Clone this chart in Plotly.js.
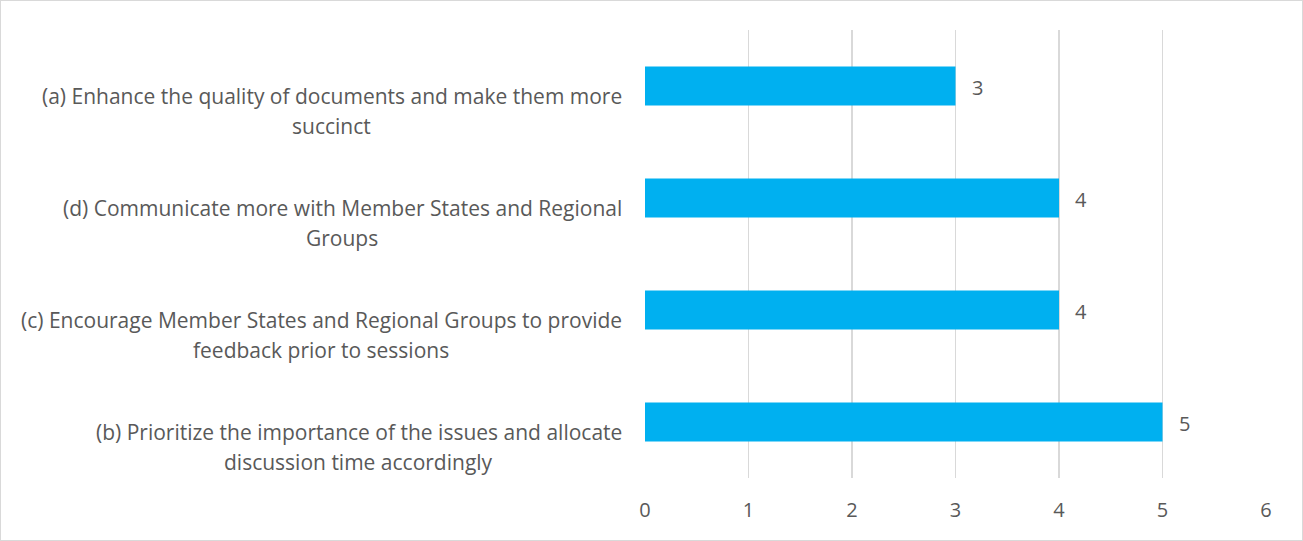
<!DOCTYPE html>
<html>
<head>
<meta charset="utf-8">
<script src="https://cdn.plot.ly/plotly-3.0.1.min.js"></script>
<style>
html,body{margin:0;padding:0;background:#fff;}
#wrap{position:relative;width:1303px;height:541px;}
#chart{width:1303px;height:541px;}
#frame{position:absolute;left:0;top:0;width:1303px;height:541px;box-sizing:border-box;border:1.5px solid #d9d9d9;pointer-events:none;}
</style>
</head>
<body>
<div id="wrap"><div id="chart"></div><div id="frame"></div></div>
<script>
var categories = [
  "(a) Enhance the quality of documents and make them more<br>succinct",
  "(d) Communicate more with Member States and Regional<br>Groups",
  "(c) Encourage Member States and Regional Groups to provide<br>feedback prior to sessions",
  "(b) Prioritize the importance of the issues and allocate<br>discussion time accordingly"
];
var values = [3, 4, 4, 5];
var xTicks = [0, 1, 2, 3, 4, 5, 6];

var FONT = "'Open Sans', sans-serif";
var LSIZE = 21;
var GREY = "#595959";

function draw(){
  var ctx = document.createElement('canvas').getContext('2d');
  ctx.font = LSIZE + "px 'Open Sans'";
  var annotations = [];
  categories.forEach(function(c, i){
    var lines = c.split('<br>');
    var w1 = ctx.measureText(lines[0]).width;
    annotations.push({
      x: 0, y: c, xref: 'x', yref: 'y', text: lines[0], showarrow: false,
      xanchor: 'right', yanchor: 'middle', xshift: -21, yshift: -10,
      font: {family: FONT, size: LSIZE, color: GREY}
    });
    if (lines[1]) {
      annotations.push({
        x: 0, y: c, xref: 'x', yref: 'y', text: lines[1], showarrow: false,
        xanchor: 'center', yanchor: 'middle', xshift: -21 - 2 - w1 / 2, yshift: -40,
        font: {family: FONT, size: LSIZE, color: GREY}
      });
    }
    annotations.push({
      x: values[i], y: c, xref: 'x', yref: 'y', text: String(values[i]), showarrow: false,
      xanchor: 'left', yanchor: 'middle', xshift: 14, yshift: -1,
      font: {family: FONT, size: 20, color: GREY}
    });
  });

  var trace = {
    type: 'bar', orientation: 'h', x: values, y: categories,
    width: 0.35, marker: {color: '#00B0F0'}, hoverinfo: 'none'
  };

  var layout = {
    width: 1303, height: 541,
    margin: {l: 645, r: 37, t: 30, b: 63, pad: 0},
    paper_bgcolor: '#ffffff', plot_bgcolor: '#ffffff',
    showlegend: false,
    font: {family: FONT, color: GREY},
    xaxis: {
      range: [0, 6], tickvals: xTicks, ticktext: xTicks.map(String),
      showgrid: true, gridcolor: '#d9d9d9', gridwidth: 1.5,
      zeroline: false, showline: false, ticks: '', ticklabelstandoff: 18,
      tickfont: {family: FONT, size: 20, color: GREY}, fixedrange: true
    },
    yaxis: {
      type: 'category', categoryorder: 'array', categoryarray: categories,
      range: [3.5, -0.5], showticklabels: false, showgrid: false,
      zeroline: false, showline: false, ticks: '', fixedrange: true
    },
    annotations: annotations
  };

  Plotly.newPlot('chart', [trace], layout, {displayModeBar: false, staticPlot: true});
}

if (document.fonts && document.fonts.load) {
  document.fonts.load(LSIZE + "px 'Open Sans'").then(draw, draw);
} else { draw(); }
</script>
</body>
</html>
